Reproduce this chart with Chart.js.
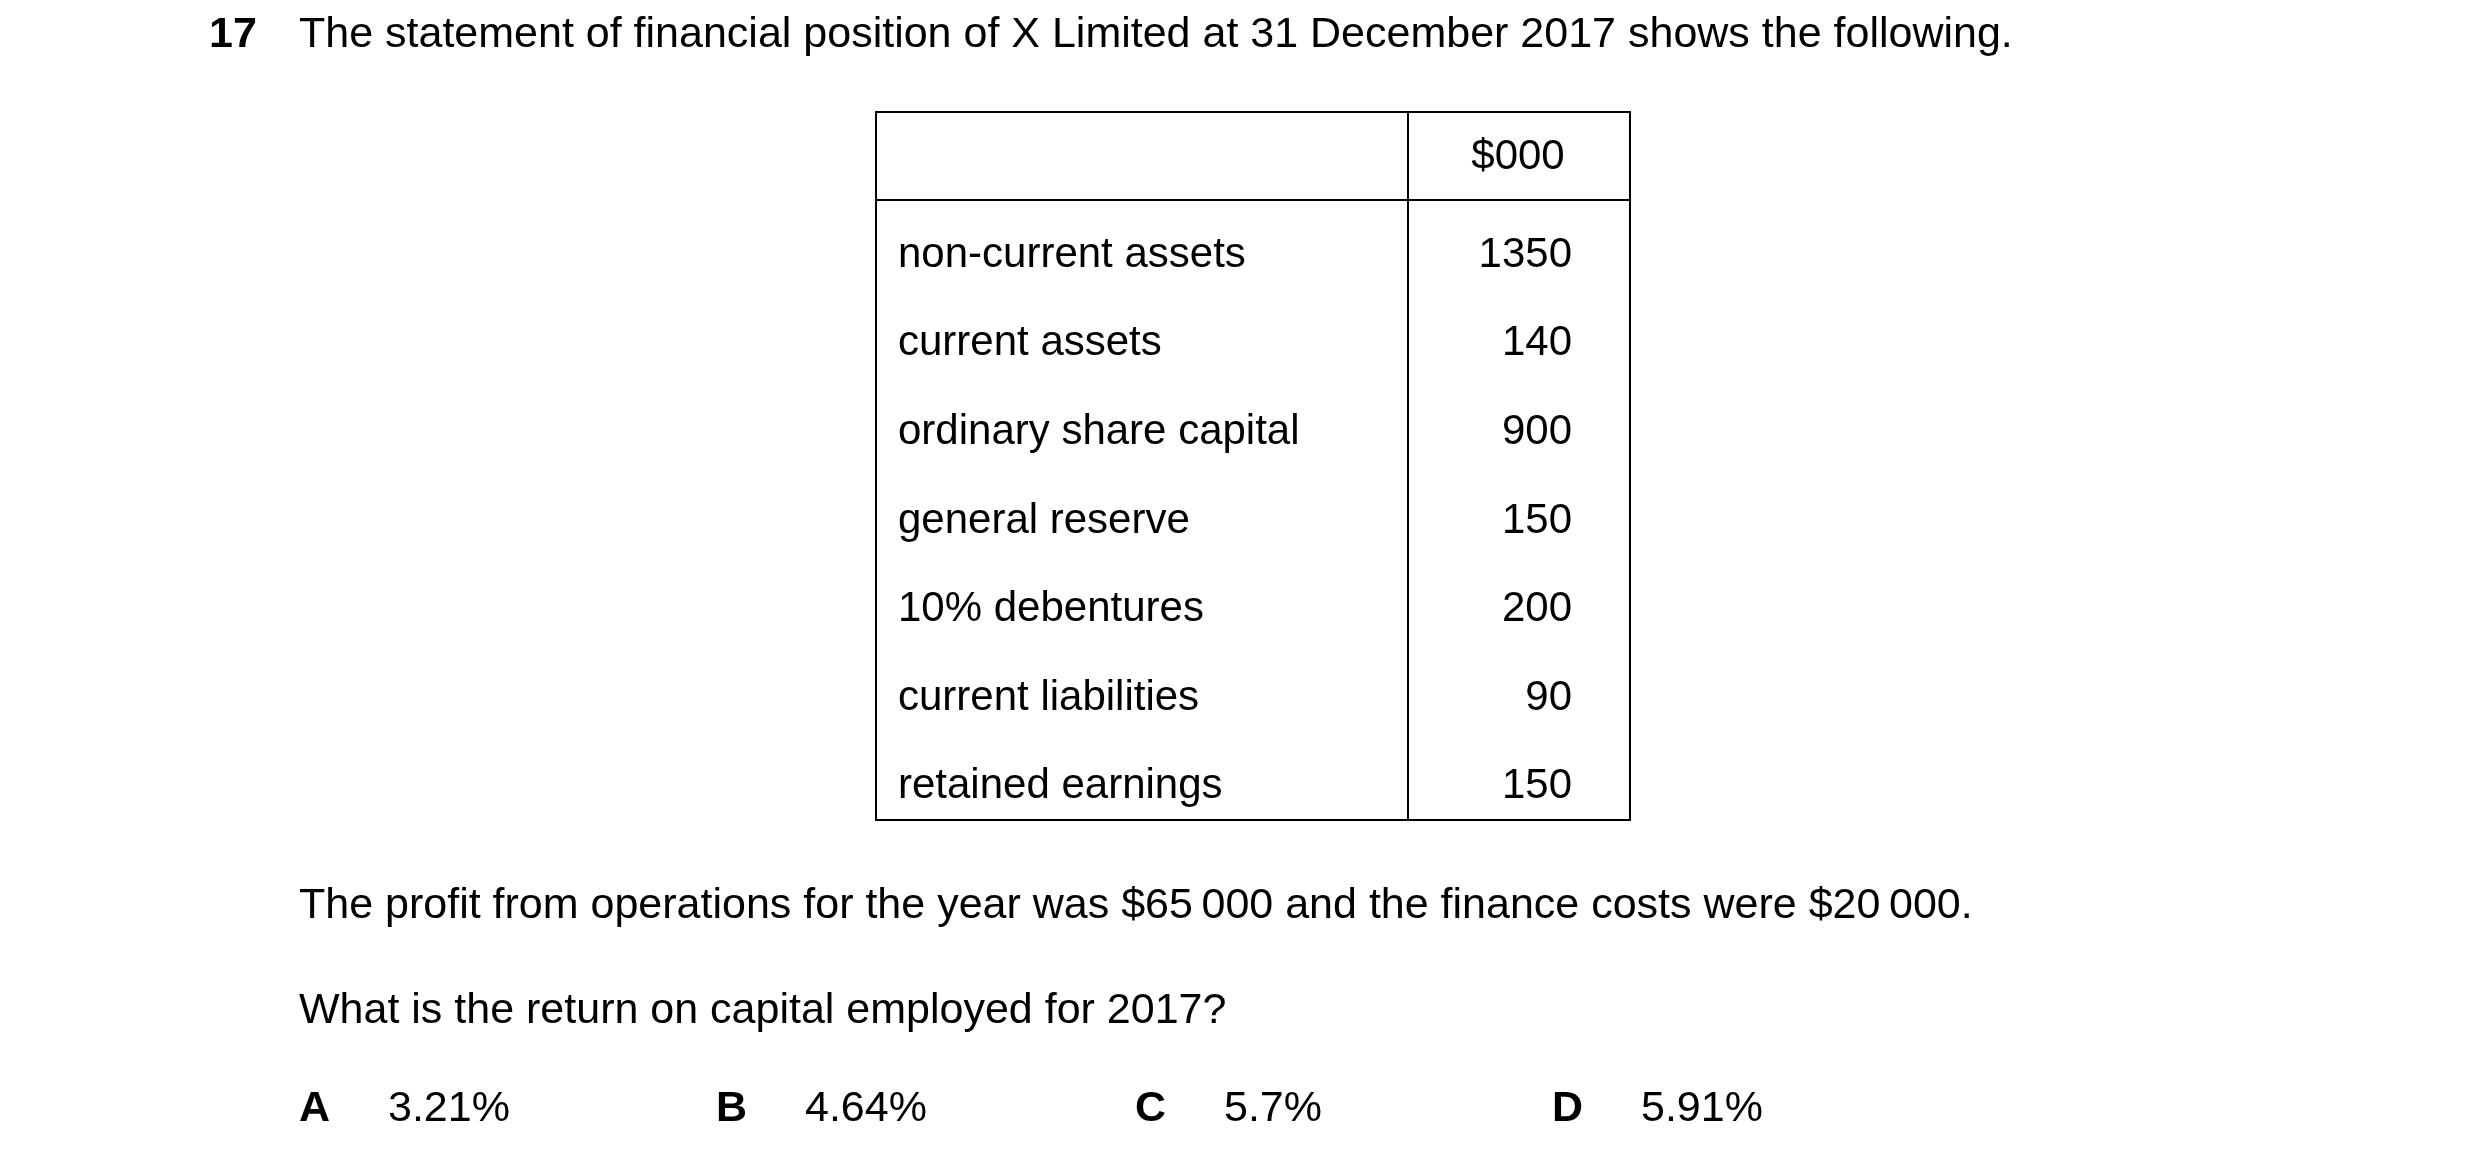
<!DOCTYPE html>
<html>
<head>
<meta charset="utf-8">
<script src="https://cdn.jsdelivr.net/npm/chart.js@4"></script>
<style>
  body { margin: 0; background: #fff; }
  #wrap { position: relative; width: 2480px; height: 1152px; }
  canvas { position: absolute; left: 0; top: 0; }
  .t { position: absolute; font-family: "Liberation Sans", Arial, sans-serif; font-size: 43px; line-height: 43px; color: #000; white-space: nowrap; }
  .b { font-weight: bold; }
</style>
</head>
<body>
<div id="wrap">
  <canvas id="chart" width="2480" height="1152"></canvas>
  <div class="t b" style="left:209px;top:11px">17</div>
  <div class="t" style="left:299px;top:11px">The statement of financial position of X Limited at 31 December 2017 shows the following.</div>
  <div class="t" style="left:299px;top:882px">The profit from operations for the year was $65&#8201;000 and the finance costs were $20&#8201;000.</div>
  <div class="t" style="left:299px;top:987px">What is the return on capital employed for 2017?</div>
  <div id="opts"></div>
</div>
<script>
var rowLabels = ['non-current assets', 'current assets', 'ordinary share capital', 'general reserve',
                 '10% debentures', 'current liabilities', 'retained earnings'];
var rowValues = [1350, 140, 900, 150, 200, 90, 150];
var columnHeader = '$000';
var optionLetters = ['A', 'B', 'C', 'D'];
var optionTexts = ['3.21%', '4.64%', '5.7%', '5.91%'];

// answer options
var optX = [299, 716, 1135, 1552];
var opts = document.getElementById('opts');
optionLetters.forEach(function(l, i){
    opts.innerHTML += '<div class="t b" style="left:' + optX[i] + 'px;top:1085px">' + l + '</div>' +
                      '<div class="t" style="left:' + (optX[i] + 89) + 'px;top:1085px">' + optionTexts[i] + '</div>';
});

var tableLeft = 876, tableRight = 1630, tableMid = 1408, tableTop = 112, headBottom = 200, tableBottom = 820;

var tablePlugin = {
    id: 'tablePlugin',
    afterDraw: function(chart){
        var ctx = chart.ctx;
        var y = chart.scales.y;
        ctx.save();
        ctx.strokeStyle = '#000';
        ctx.lineWidth = 2;
        ctx.strokeRect(tableLeft, tableTop, tableRight - tableLeft, tableBottom - tableTop);
        ctx.beginPath();
        ctx.moveTo(tableLeft, headBottom); ctx.lineTo(tableRight, headBottom);
        ctx.moveTo(tableMid, tableTop); ctx.lineTo(tableMid, tableBottom);
        ctx.stroke();
        ctx.fillStyle = '#000';
        ctx.font = '42px "Liberation Sans", Arial, sans-serif';
        ctx.textBaseline = 'middle';
        ctx.textAlign = 'center';
        ctx.fillText(columnHeader, 1518, 157);
        chart.data.labels.forEach(function(lab, i){
            var py = y.getPixelForValue(i) + 11;
            ctx.textAlign = 'left';
            ctx.fillText(lab, 898, py);
            ctx.textAlign = 'right';
            ctx.fillText(String(chart.data.datasets[0].data[i]), 1572, py);
        });
        ctx.restore();
    }
};

new Chart(document.getElementById('chart').getContext('2d'), {
    type: 'bar',
    data: {
        labels: rowLabels,
        datasets: [{ data: rowValues, backgroundColor: 'rgba(0,0,0,0)', borderWidth: 0 }]
    },
    options: {
        indexAxis: 'y',
        responsive: false,
        devicePixelRatio: 1,
        animation: false,
        layout: { padding: { left: tableLeft, right: 2480 - tableRight, top: headBottom, bottom: 1152 - tableBottom } },
        scales: {
            x: { display: false, min: 0, max: 1400 },
            y: { display: false, offset: true }
        },
        plugins: { legend: { display: false }, tooltip: { enabled: false } }
    },
    plugins: [tablePlugin]
});
</script>
</body>
</html>
